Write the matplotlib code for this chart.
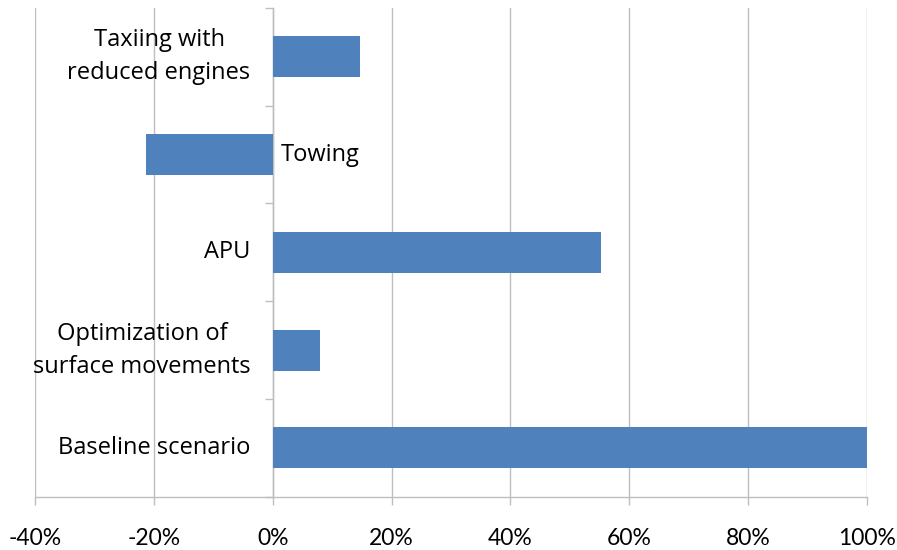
import matplotlib
matplotlib.use("Agg")
import matplotlib.pyplot as plt
from matplotlib.ticker import FuncFormatter

categories = [
    "Baseline scenario",
    "Optimization of\nsurface movements",
    "APU",
    "Towing",
    "Taxiing with\nreduced engines",
]
values = [100.0, 7.9, 55.3, -21.3, 14.6]
x_ticks = [-40, -20, 0, 20, 40, 60, 80, 100]

bar_color = "#4F81BD"
grid_color = "#BEBEBE"
tick_font = ["Lato", "DejaVu Sans"]
label_font = ["Open Sans", "DejaVu Sans"]

fig = plt.figure(figsize=(8.97, 5.50), dpi=100)
W, H = 897, 550
ax = fig.add_axes([35.3 / W, (H - 496.7) / H, (866.7 - 35.3) / W, (496.7 - 8) / H])

pos = list(range(len(categories)))
ax.barh(pos, values, height=0.42, color=bar_color, zorder=3)

ax.set_xlim(x_ticks[0], x_ticks[-1])
ax.set_ylim(-0.5, len(categories) - 0.5)

# vertical gridlines
ax.set_xticks(x_ticks)
ax.xaxis.grid(True, color=grid_color, linewidth=1.0, zorder=0)
ax.set_axisbelow(True)
ax.xaxis.set_major_formatter(FuncFormatter(lambda v, _: f"{v:.0f}%"))
ax.tick_params(axis="x", direction="out", length=5.5, width=1.0, color=grid_color,
               pad=17, labelsize=16.5)
for lab in ax.get_xticklabels():
    lab.set_family(tick_font)

# category axis at zero, ticks at category boundaries
for s in ("top", "right"):
    ax.spines[s].set_visible(False)
ax.spines["left"].set_position(("data", 0))
ax.spines["left"].set_color(grid_color)
ax.spines["bottom"].set_color(grid_color)
ax.spines["left"].set_linewidth(1.0)
ax.spines["bottom"].set_linewidth(1.0)
ax.set_yticks([p - 0.5 for p in pos] + [pos[-1] + 0.5])
ax.set_yticklabels([])
ax.tick_params(axis="y", direction="out", length=5.8, width=1.0, color=grid_color)

# category labels next to the axis
for p, name, v in zip(pos, categories, values):
    if v < 0:
        ax.annotate(name, xy=(0, p), xytext=(6.0, 0), textcoords="offset points",
                    ha="left", va="center", fontsize=17, family=label_font)
    else:
        ax.annotate(name, xy=(0, p), xytext=(-16.0, 0), textcoords="offset points",
                    ha="right", va="center", multialignment="center",
                    fontsize=17, family=label_font, linespacing=1.5)

fig.savefig("out.png", dpi=100)
